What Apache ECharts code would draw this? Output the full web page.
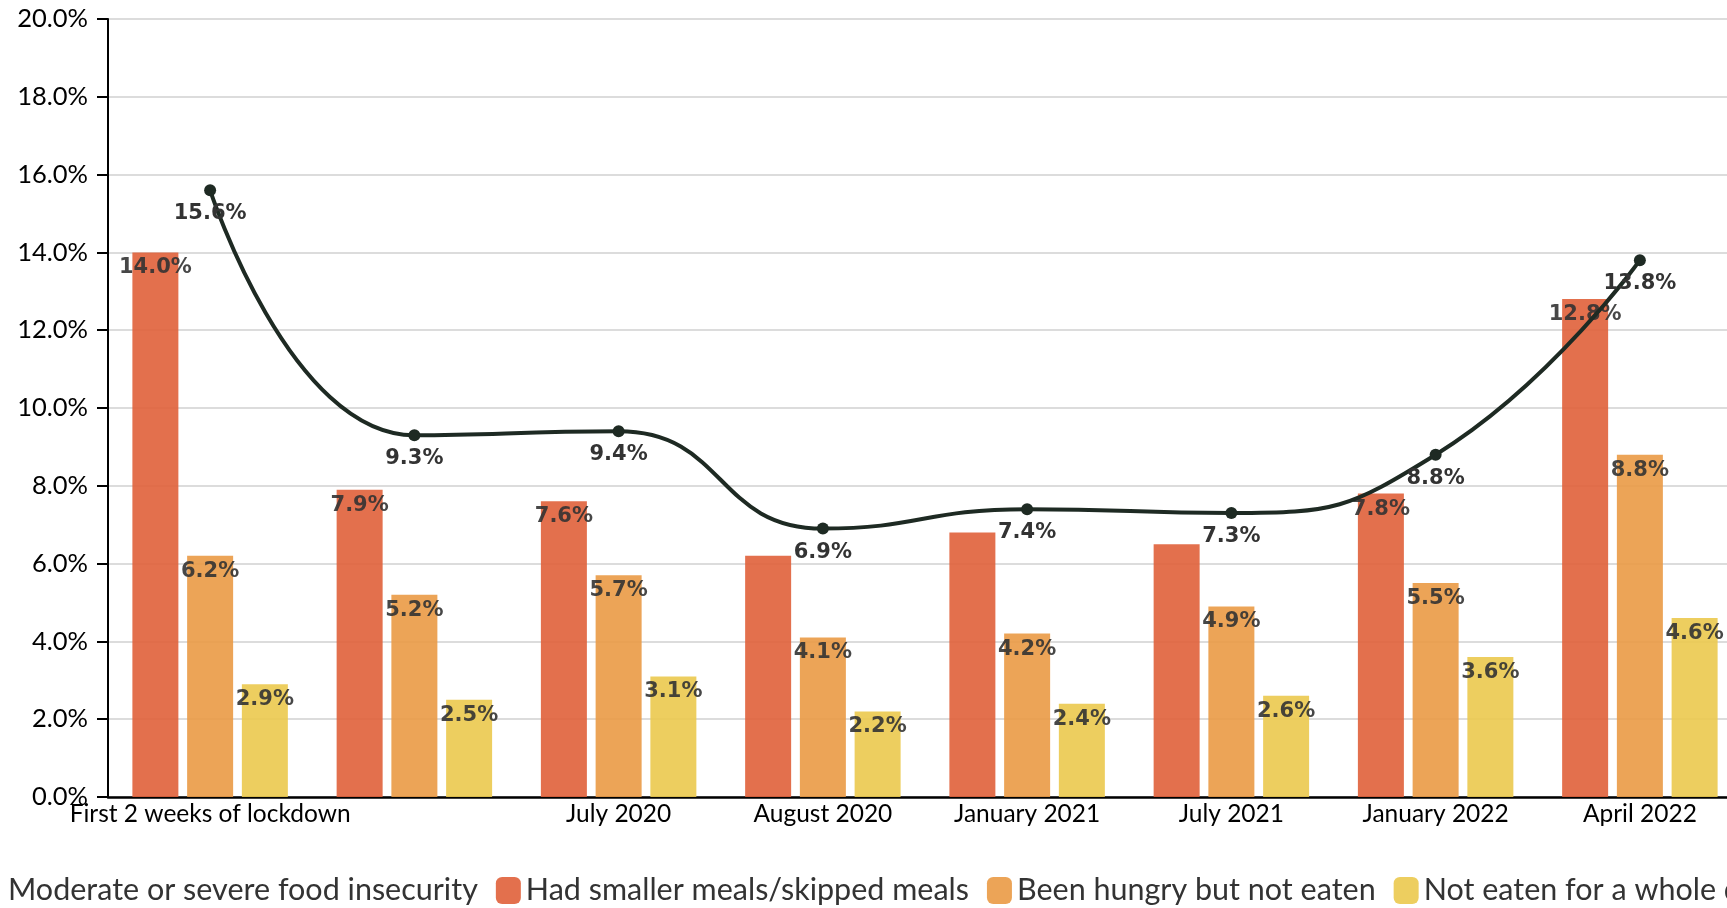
<!DOCTYPE html>
<html>
<head>
<meta charset="utf-8">
<script src="https://cdn.jsdelivr.net/npm/echarts@6/dist/echarts.min.js"></script>
<style>
  html, body { margin: 0; padding: 0; background: #fff; overflow: hidden; }
  #chart { width: 2000px; height: 908px; }
</style>
</head>
<body>
<div id="chart"></div>
<script>
// categories (2nd label is not shown in the original)
var categories = ['First 2 weeks of lockdown', 'May 2020', 'July 2020', 'August 2020',
    'January 2021', 'July 2021', 'January 2022', 'April 2022'];

var insecurity = [15.6, 9.3, 9.4, 6.9, 7.4, 7.3, 8.8, 13.8];
var smallerMeals = [14.0, 7.9, 7.6, 6.2, 6.8, 6.5, 7.8, 12.8];
var hungryNotEaten = [6.2, 5.2, 5.7, 4.1, 4.2, 4.9, 5.5, 8.8];
var wholeDay = [2.9, 2.5, 3.1, 2.2, 2.4, 2.6, 3.6, 4.6];

// labels of the red bars that are hidden behind the line labels
var hiddenRedLabels = [3, 4, 5];

var seriesNames = ['Moderate or severe food insecurity', 'Had smaller meals/skipped meals',
    'Been hungry but not eaten', 'Not eaten for a whole day'];

var RED = '#E0603A';
var ORANGE = '#EA9A45';
var YELLOW = '#EBC94E';
var LINE = '#1E2A23';

var chartDom = document.getElementById('chart');
var myChart = echarts.init(chartDom);

function pct(p) {
    return Number(p.value).toFixed(1) + '%';
}

var valueLabel = {
    show: true,
    formatter: pct,
    fontFamily: 'DejaVu Sans',
    fontWeight: 'bold',
    fontSize: 21,
    color: '#333'
};

function barSeries(name, data, color, hidden) {
    return {
        name: name,
        type: 'bar',
        barWidth: 46,
        barGap: '19%',
        itemStyle: { color: color, opacity: 0.9 },
        label: Object.assign({ position: 'insideTop', distance: 5 }, valueLabel),
        data: data.map(function (v, i) {
            if (hidden && hidden.indexOf(i) >= 0) {
                return { value: v, label: { show: false } };
            }
            return v;
        })
    };
}

var option = {
    animation: false,
    grid: {
        left: 108,
        top: 19,
        width: 1634,
        height: 778
    },
    legend: {
        left: -27,
        top: 870,
        itemWidth: 25,
        itemHeight: 27,
        itemGap: 18,
        icon: 'roundRect',
        textStyle: {
            fontFamily: 'Lato',
            fontSize: 30.5,
            color: '#333'
        },
        data: [
            { name: seriesNames[0], icon: 'none' },
            seriesNames[1], seriesNames[2], seriesNames[3]
        ]
    },
    xAxis: {
        type: 'category',
        data: categories,
        axisLine: { lineStyle: { color: '#000', width: 2.5 } },
        axisTick: {
            inside: true,
            alignWithLabel: true,
            length: 12,
            lineStyle: { color: '#000', width: 1 }
        },
        axisLabel: {
            margin: 5,
            fontFamily: 'Lato',
            fontSize: 24.5,
            color: '#000',
            interval: function (index) { return index !== 1; }
        }
    },
    yAxis: {
        type: 'value',
        min: 0,
        max: 20,
        interval: 2,
        axisLine: { show: true, lineStyle: { color: '#000', width: 2 } },
        axisTick: { show: true, length: 11, lineStyle: { color: '#000', width: 2 } },
        splitLine: { lineStyle: { color: '#dcdcdc', width: 2 } },
        axisLabel: {
            margin: 20,
            fontFamily: 'Lato',
            fontSize: 25.5,
            color: '#000',
            formatter: function (v) { return v.toFixed(1) + '%'; }
        }
    },
    series: [
        {
            name: seriesNames[0],
            type: 'line',
            smooth: true,
            z: 5,
            symbol: 'circle',
            symbolSize: 12,
            itemStyle: { color: LINE },
            lineStyle: { color: LINE, width: 4 },
            label: Object.assign({ position: 'bottom', distance: 7 }, valueLabel),
            data: insecurity
        },
        barSeries(seriesNames[1], smallerMeals, RED, hiddenRedLabels),
        barSeries(seriesNames[2], hungryNotEaten, ORANGE),
        barSeries(seriesNames[3], wholeDay, YELLOW)
    ]
};

option && myChart.setOption(option);
</script>
</body>
</html>
